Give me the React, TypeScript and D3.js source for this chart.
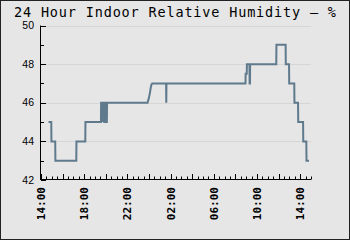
import React from "react";
import * as d3 from "d3";

const TITLE = "24 Hour Indoor Relative Humidity \u2013 %";
const domainStart = "06-01 14:00";
const domainEnd = "06-02 15:00";
const yTicks = [42, 44, 46, 48, 50];
const yMinor = [43, 45, 47, 49];
const xLabelTimes = ["06-01 14:00", "06-01 18:00", "06-01 22:00", "06-02 02:00", "06-02 06:00", "06-02 10:00", "06-02 14:00"];
const xLabels = ["14:00", "18:00", "22:00", "02:00", "06:00", "10:00", "14:00"];

const times = [
  "06-01 14:42", "06-01 14:57", "06-01 14:58", "06-01 15:19", "06-01 15:20", "06-01 17:16", "06-01 17:17",
  "06-01 18:06", "06-01 18:07", "06-01 19:33", "06-01 19:34", "06-01 19:40", "06-01 19:41", "06-01 19:42",
  "06-01 19:50", "06-01 19:51", "06-01 19:57", "06-01 19:58", "06-01 20:04", "06-01 20:05", "06-01 20:06",
  "06-01 20:07", "06-01 23:52", "06-01 23:58", "06-02 00:05", "06-02 00:10", "06-02 00:14", "06-02 00:18",
  "06-02 01:35", "06-02 01:36", "06-02 01:37", "06-02 08:56", "06-02 08:57", "06-02 09:03", "06-02 09:04",
  "06-02 09:18", "06-02 09:19", "06-02 09:21", "06-02 09:22", "06-02 11:47", "06-02 11:48", "06-02 12:39",
  "06-02 12:40", "06-02 12:58", "06-02 12:59", "06-02 13:27", "06-02 13:28", "06-02 13:48", "06-02 13:49",
  "06-02 14:16", "06-02 14:17", "06-02 14:34", "06-02 14:35", "06-02 14:49",
];
const humidity = [
  45, 45, 44, 44, 43, 43, 44,
  44, 45, 45, 46, 46, 45, 46,
  46, 45, 45, 46, 46, 45, 45,
  46, 46, 46.2, 46.5, 46.8, 46.95, 47,
  47, 46, 47, 47, 47.5, 47.5, 48,
  48, 47, 47, 48, 48, 49, 49,
  48, 48, 47, 47, 46, 46, 45,
  45, 44, 44, 43, 43,
];

const parse = d3.timeParse("%m-%d %H:%M");

export default function App() {
  const W = 350, H = 240;
  const x = d3.scaleTime().domain([parse(domainStart)!, parse(domainEnd)!]).range([41, 311]);
  const y = d3.scaleLinear().domain([42, 50]).range([180, 25.5]);
  const data = times.map((t, i) => ({ t: parse(t)!, v: humidity[i] }));
  const line = d3.line<{ t: Date; v: number }>().x(d => x(d.t)).y(d => y(d.v));
  const halfHours = d3.timeMinute.every(30)!.range(parse(domainStart)!, d3.timeMinute.offset(parse(domainEnd)!, 1));
  const fontMono = "'DejaVu Sans Mono', monospace";
  return (
    <svg width={W} height={H} style={{ position: "absolute", left: 0, top: 0 }}>
      <rect x={0.5} y={0.5} width={W - 1} height={H - 1} fill="#e6e6e6" stroke="#222" />
      <text x={14} y={16.8} textLength={322} lengthAdjust="spacing" fontFamily={fontMono} fontSize={13.5} fill="#000">{TITLE}</text>
      {yTicks.filter(v => v > 42).map(v => (
        <line key={"g" + v} x1={41} x2={311} y1={Math.round(y(v)) + 0.5} y2={Math.round(y(v)) + 0.5} stroke="#d6d6d6" />
      ))}
      {yTicks.map(v => (
        <g key={"y" + v}>
          <line x1={41} x2={46} y1={Math.round(y(v)) + 0.5} y2={Math.round(y(v)) + 0.5} stroke="#000" />
          <text x={34} y={y(v) + 3.7} textAnchor="end" fontFamily="'Liberation Sans', Arial, sans-serif" fontSize={10.5} fill="#000">{v}</text>
        </g>
      ))}
      {yMinor.map(v => (
        <line key={"ym" + v} x1={41} x2={44} y1={Math.round(y(v)) + 0.5} y2={Math.round(y(v)) + 0.5} stroke="#000" />
      ))}
      <line x1={40.5} x2={40.5} y1={25.5} y2={180} stroke="#000" />
      <line x1={40.5} x2={311} y1={179.5} y2={179.5} stroke="#000" />
      {halfHours.map((d, i) => {
        const tall = d.getMinutes() === 0 && d.getHours() % 2 === 0;
        const xx = Math.round(x(d)) + 0.5;
        return <line key={"xt" + i} x1={xx} x2={xx} y1={179.5} y2={tall ? 174 : 176.5} stroke="#000" />;
      })}
      {xLabelTimes.map((t, i) => {
        const xx = x(parse(t)!);
        return (
          <text key={"xl" + i} transform={`translate(${xx + 4},${187}) rotate(-90)`} textAnchor="end"
            fontFamily={fontMono} fontWeight="bold" fontSize={11} fill="#000">{xLabels[i]}</text>
        );
      })}
      <path d={line(data)!} fill="none" stroke="#5f7a8c" strokeWidth={2} />
    </svg>
  );
}
